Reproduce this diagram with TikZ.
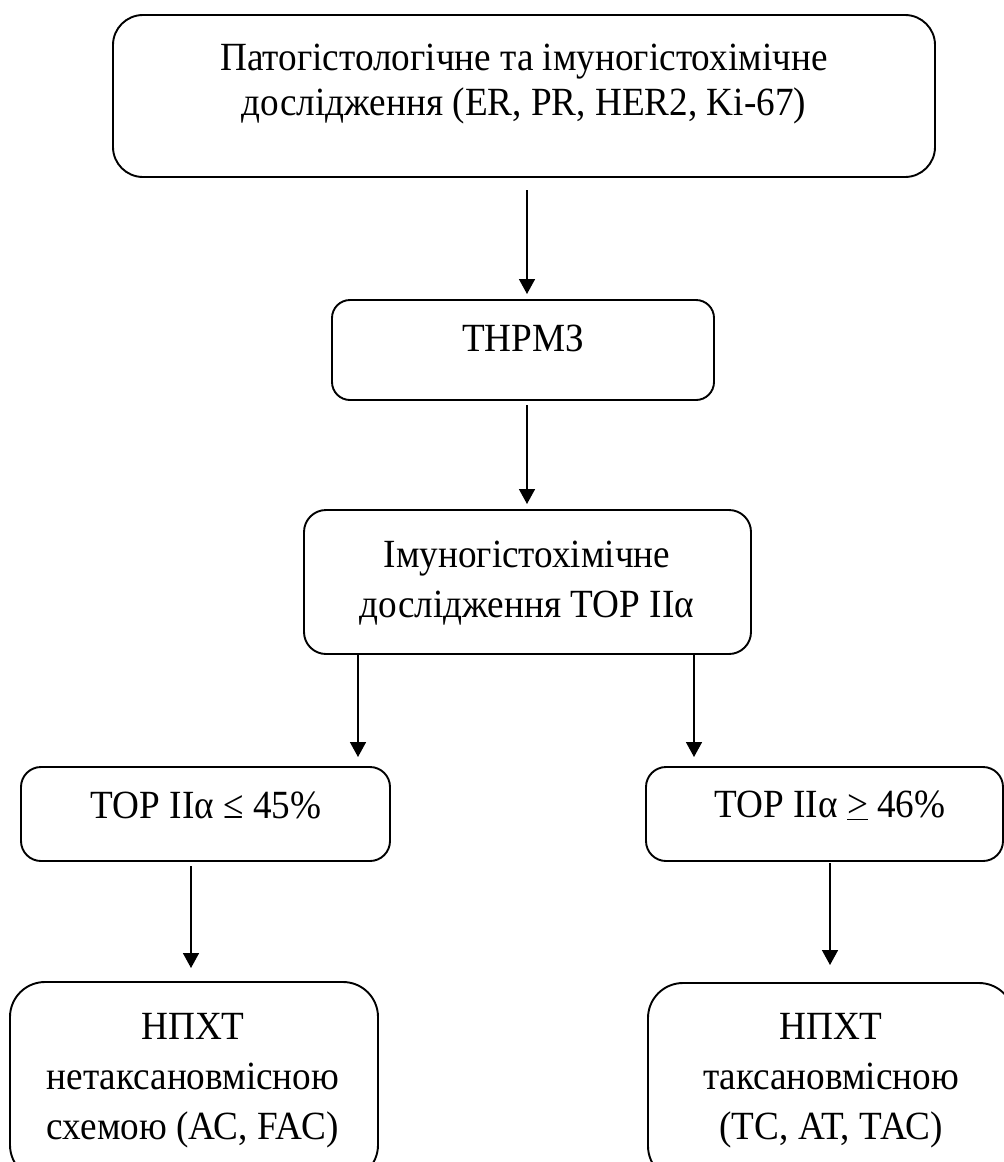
\documentclass[tikz,border=0pt]{standalone}
\usepackage{fontspec}
\setmainfont{Liberation Serif}[FakeStretch=0.93]
\usetikzlibrary{arrows.meta}
\begin{document}
\begin{tikzpicture}[x=1pt,y=-1pt,
  box/.style={draw, line width=1.9pt, anchor=north west, inner sep=0pt, outer sep=0pt},
  lbl/.style={font=\fontsize{40}{50}\selectfont, align=center, inner sep=0pt},
  arr/.style={line width=1.6pt, -{Triangle[width=16pt,length=15pt]}}]
\useasboundingbox (0,0) rectangle (1004,1162);
\clip (0,0) rectangle (1004,1162);
\fill[white] (0,0) rectangle (1004,1162);
% boxes
\node[box, rounded corners=30pt, minimum width=822pt, minimum height=162pt] (b1) at (113,15) {};
\node[box, rounded corners=18pt, minimum width=382pt, minimum height=100pt] (b2) at (332,300) {};
\node[box, rounded corners=22pt, minimum width=447pt, minimum height=144pt] (b3) at (304,510) {};
\node[box, rounded corners=20pt, minimum width=369pt, minimum height=94pt] (b4) at (21,767) {};
\node[box, rounded corners=20pt, minimum width=357pt, minimum height=94pt] (b5) at (646,767) {};
\node[box, rounded corners=35pt, minimum width=368pt, minimum height=198pt] (b6) at (10,982) {};
\node[box, rounded corners=35pt, minimum width=366pt, minimum height=198pt] (b7) at (648,983) {};
% texts
\node[lbl, font=\fontsize{40}{45}\selectfont] (t1) at (524,84) {Патогістологічне та імуногістохімічне\\дослідження (ER, PR, HER2, Ki-67)};
\node[lbl] (t2) at (523,338) {ТНРМЗ};
\node[lbl] (t3) at (527,583) {Імуногістохімічне\\дослідження ТОР IIα};
\node[lbl] (t4) at (206,805) {ТОР IIα ≤ 45\%};
\node[lbl] (t5) at (830,805) {ТОР IIα \underline{>} 46\%};
\node[lbl] (t6) at (193,1081) {НПХТ\\нетаксановмісною\\схемою (АС, FAC)};
\node[lbl] (t7) at (831,1081) {НПХТ\\таксановмісною\\(ТС, АТ, ТАС)};
% connectors
\draw[arr, shorten <=13pt, shorten >=6pt] ([xshift=3pt]b1.south) -- ([xshift=3pt]b1.south |- b2.north);
\draw[arr, shorten <=5pt, shorten >=6pt] ([xshift=4pt]b2.south) -- ([xshift=4pt]b2.south |- b3.north);
\draw[arr, shorten >=10pt] ([xshift=54pt]b3.south west) -- ([xshift=54pt]b3.south west |- b4.north);
\draw[arr, shorten >=10pt] ([xshift=-57pt]b3.south east) -- ([xshift=-57pt]b3.south east |- b5.north);
\draw[arr, shorten <=5pt, shorten >=14pt] ([xshift=-14.5pt]b4.south) -- ([xshift=-14.5pt]b4.south |- b6.north);
\draw[arr, shorten <=2pt, shorten >=18pt] ([xshift=5.5pt]b5.south) -- ([xshift=5.5pt]b5.south |- b7.north);
\end{tikzpicture}
\end{document}
